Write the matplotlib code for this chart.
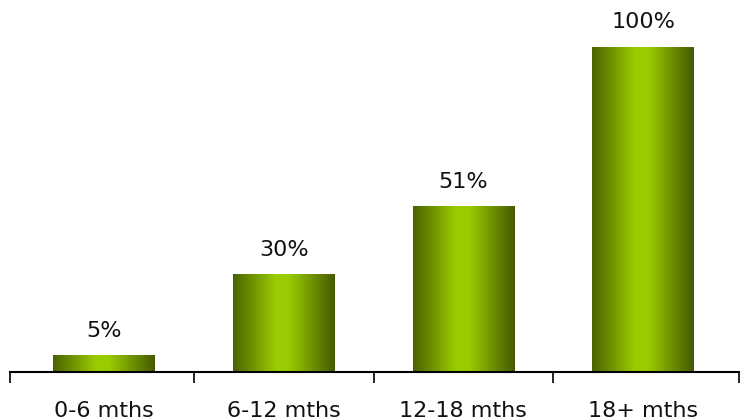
import matplotlib
matplotlib.use('Agg')
import matplotlib.pyplot as plt
import numpy as np
from matplotlib.colors import LinearSegmentedColormap

categories = ['0-6 mths', '6-12 mths', '12-18 mths', '18+ mths']
values = [5, 30, 51, 100]

# horizontal gradient: dark olive edges, bright lime middle
cmap = LinearSegmentedColormap.from_list(
    'olive', [(0.0, '#4b6200'), (0.42, '#99cc00'), (0.55, '#99cc00'), (1.0, '#465a00')])
grad = np.linspace(0, 1, 256).reshape(1, -1)

fig = plt.figure(figsize=(7.4, 4.2), dpi=100)
ax = fig.add_axes([10/740, 1 - 372/420, 729/740, 372/420])

width = 0.565
x = np.arange(len(categories))
bars = ax.bar(x, values, width, color='none', edgecolor='none')
for b, v in zip(bars, values):
    x0 = b.get_x()
    ax.imshow(grad, cmap=cmap, aspect='auto', interpolation='bicubic',
              extent=[x0, x0 + width, 0, v], zorder=2)
    ax.annotate('%d%%' % v, xy=(b.get_x() + width/2, v), xytext=(0, 13.5),
                textcoords='offset points', ha='center', va='baseline',
                fontsize=16, color='#111111')

xl = (-0.523, 3.534)
ax.set_xlim(*xl)
ax.set_ylim(0, 100 * 372 / 325)
for s in ['top', 'right', 'left']:
    ax.spines[s].set_visible(False)
ax.spines['bottom'].set_linewidth(1.5)
ax.set_yticks([])
ax.set_xticks(x)
ax.set_xticklabels(categories, fontsize=16, color='#111111')
ax.tick_params(axis='x', which='major', length=0, pad=21)
ax.set_xticks([xl[0], 0.5, 1.5, 2.5, xl[1]], minor=True)
ax.tick_params(axis='x', which='minor', length=8, width=1.2, direction='out')

fig.savefig('out.png', dpi=100)
